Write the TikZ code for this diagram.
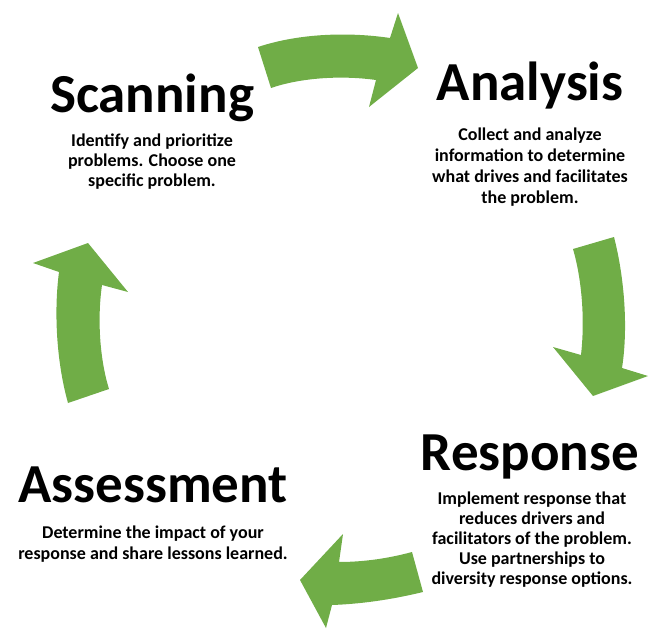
\documentclass[tikz,border=0pt]{standalone}
\usepackage{fontspec}
\setmainfont{Carlito}
\definecolor{arrowgreen}{HTML}{70AD47}
\tikzset{
  cyclearrow/.style={fill=arrowgreen, draw=none},
  titletext/.style={font=\bfseries\fontsize{55}{60}\selectfont, anchor=base, inner sep=0pt},
  bodytext/.style={font=\bfseries\fontsize{18}{20}\selectfont, align=center, anchor=base, inner sep=0pt},
}
\begin{document}
\begin{tikzpicture}[x=1pt,y=-1pt]
\useasboundingbox (0,0) rectangle (649,629);
% arrows
\fill[cyclearrow] (258,47) .. controls (300,33) and (350,32) .. (390,38) -- (398,13) -- (418,68) -- (369,107) -- (376,80) .. controls (340,75) and (300,78) .. (271,88) -- cycle;
\fill[cyclearrow] (573,249) -- (614,237) .. controls (625,280) and (628,330) .. (622,368) -- (648,376) -- (593,396) -- (553,347) -- (581,355) .. controls (585,320) and (582,280) .. (573,249) -- cycle;
\fill[cyclearrow] (412,552) -- (423,592) .. controls (390,600) and (360,604) .. (332,605) -- (326,628) -- (300,580) -- (343,534) -- (339,562) .. controls (365,562) and (390,558) .. (412,552) -- cycle;
\fill[cyclearrow] (68,403) -- (109,389) .. controls (100,360) and (97,320) .. (102,285) -- (128,292) -- (88,243) -- (33,263) -- (59,272) .. controls (54,310) and (56,360) .. (68,403) -- cycle;
% titles
\node[titletext] (scan) at (152,112) {Scanning};
\node[titletext] (anal) at (530,100) {Analysis};
\node[titletext] (resp) at (530,470) {Response};
\node[titletext] (asse) at (153,502) {Assessment};
% bodies
\node[bodytext] (scanb) at (152,186) {Identify and prioritize\\problems. Choose one\\specific problem.};
\node[bodytext, font=\bfseries\fontsize{18}{21}\selectfont] (analb) at (530,203) {Collect and analyze\\information to determine\\what drives and facilitates\\the problem.};
\node[bodytext] (respb) at (532,584) {Implement response that\\reduces drivers and\\facilitators of the problem.\\Use partnerships to\\diversity response options.};
\node[bodytext, font=\bfseries\fontsize{18}{21}\selectfont] (asseb) at (153,559) {Determine the impact of your\\response and share lessons learned.};
\end{tikzpicture}
\end{document}
